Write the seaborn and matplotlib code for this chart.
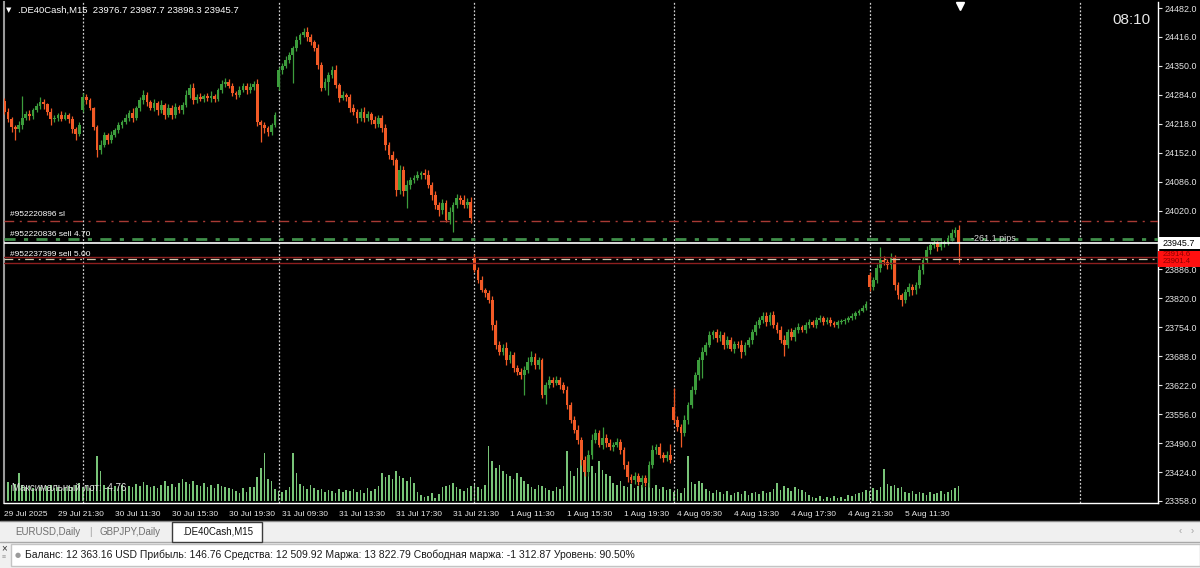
import numpy as np
import pandas as pd
import matplotlib
matplotlib.use("Agg")
import matplotlib.pyplot as plt
from matplotlib.patches import Rectangle
import seaborn as sns

# .DE40Cash M15 bars, one list per trading day (closes, wick sizes in points, tick volume)
close_d0 = [24245, 24230, 24210, 24205, 24215, 24232, 24240, 24235, 24250, 24258,
            24268, 24262, 24245, 24228, 24232, 24238, 24230, 24238, 24228, 24205,
            24195, 24215]
close_d1 = [24279, 24272, 24254, 24211, 24158, 24170, 24192, 24181, 24192, 24204,
            24215, 24222, 24231, 24243, 24231, 24254, 24272, 24284, 24268, 24254,
            24265, 24249, 24261, 24238, 24254, 24238, 24256, 24249, 24261, 24284,
            24300, 24272, 24279, 24275, 24281, 24277, 24281, 24275, 24295, 24309,
            24313, 24304, 24288, 24284, 24295, 24304, 24295, 24302, 24309, 24222,
            24215, 24208, 24199, 24215, 24238]
close_d2 = [24340, 24350, 24363, 24375, 24391, 24409, 24420, 24427, 24416, 24404,
            24391, 24352, 24300, 24313, 24329, 24341, 24306, 24277, 24284, 24279,
            24254, 24245, 24231, 24245, 24231, 24240, 24227, 24218, 24231, 24208,
            24170, 24147, 24135, 24067, 24113, 24065, 24079, 24090, 24095, 24101,
            24106, 24101, 24079, 24056, 24033, 24021, 24037, 23999, 24017, 24033,
            24049, 24044, 24033, 24040, 24003]
close_d3 = [23885, 23862, 23839, 23832, 23816, 23759, 23714, 23698, 23707, 23679,
            23691, 23661, 23652, 23645, 23657, 23675, 23686, 23668, 23679, 23600,
            23622, 23634, 23627, 23634, 23622, 23611, 23577, 23543, 23520, 23497,
            23451, 23424, 23463, 23497, 23513, 23486, 23502, 23490, 23481, 23486,
            23493, 23474, 23440, 23413, 23406, 23415, 23401, 23410, 23399, 23440,
            23474, 23481, 23463, 23456, 23463, 23451]
close_d4 = [23543, 23527, 23513, 23543, 23577, 23611, 23645, 23679, 23698, 23714,
            23736, 23743, 23729, 23736, 23714, 23725, 23705, 23716, 23714, 23698,
            23714, 23725, 23743, 23759, 23771, 23780, 23766, 23782, 23759, 23748,
            23725, 23714, 23743, 23732, 23748, 23755, 23748, 23759, 23766, 23759,
            23771, 23775, 23766, 23771, 23764, 23759, 23766, 23768, 23771, 23775,
            23780, 23786, 23792, 23798, 23808]
close_d5 = [23846, 23862, 23889, 23907, 23903, 23896, 23912, 23850, 23828, 23816,
            23835, 23846, 23839, 23850, 23885, 23907, 23930, 23941, 23946, 23937,
            23944, 23948, 23957, 23969, 23976.7, 23945.7]

upper_d0 = [6, 8, 4, 5, 9, 50, 7, 10, 5, 8, 12, 6, 4, 9, 7, 5, 10, 6, 4, 8, 5, 7]
upper_d1 = [10, 6, 4, 3, 5, 12, 8, 6, 10, 5, 7, 4, 9, 6, 12, 5, 8, 10, 7, 4,
            9, 6, 11, 5, 8, 6, 9, 5, 7, 12, 8, 10, 6, 9, 5, 7, 11, 6, 4, 8,
            10, 6, 7, 5, 9, 8, 6, 10, 7, 12, 5, 8, 6, 5, 7]
upper_d2 = [8, 6, 10, 7, 5, 9, 6, 9, 12, 7, 5, 8, 6, 10, 7, 8, 12, 6, 9, 5,
            7, 10, 6, 8, 12, 7, 5, 9, 6, 8, 10, 7, 9, 6, 12, 8, 10, 7, 6, 9,
            5, 8, 11, 7, 9, 6, 10, 8, 12, 7, 9, 6, 12, 8, 10]
upper_d3 = [8, 6, 10, 5, 7, 9, 12, 8, 10, 14, 9, 7, 6, 10, 8, 12, 14, 9, 7, 6,
            8, 10, 7, 9, 6, 8, 10, 7, 9, 12, 8, 10, 12, 14, 9, 7, 25, 8, 10, 7,
            9, 6, 8, 10, 7, 9, 6, 8, 7, 10, 12, 8, 9, 7, 10, 25]
upper_d4 = [43, 8, 6, 10, 7, 9, 6, 8, 10, 7, 9, 6, 8, 10, 7, 9, 8, 6, 7, 10,
            6, 8, 7, 9, 6, 8, 10, 7, 9, 6, 8, 12, 7, 9, 6, 8, 5, 7, 6, 5,
            7, 6, 5, 7, 6, 4, 5, 6, 4, 5, 6, 5, 4, 6, 5]
upper_d5 = [8, 6, 10, 30, 9, 7, 12, 6, 8, 5, 7, 9, 6, 8, 10, 7, 9, 6, 8, 5,
            7, 6, 8, 10, 6, 11]

lower_d0 = [5, 7, 10, 25, 6, 8, 5, 9, 6, 4, 7, 10, 6, 12, 5, 8, 6, 4, 9, 7, 14, 5]
lower_d1 = [6, 8, 5, 7, 16, 10, 6, 9, 7, 5, 8, 6, 4, 7, 10, 5, 6, 8, 9, 5,
            7, 10, 6, 8, 5, 9, 7, 6, 8, 5, 7, 9, 6, 5, 8, 6, 10, 7, 5, 6,
            8, 5, 7, 9, 6, 5, 8, 6, 7, 9, 39, 10, 8, 6, 5]
lower_d2 = [6, 8, 5, 7, 64, 6, 8, 5, 9, 7, 6, 10, 8, 5, 30, 7, 6, 9, 5, 8,
            10, 6, 12, 7, 8, 6, 9, 10, 7, 8, 12, 9, 10, 14, 8, 12, 40, 9, 7, 6,
            8, 10, 7, 12, 9, 14, 8, 6, 10, 45, 7, 9, 6, 8, 12]
lower_d3 = [6, 8, 5, 10, 7, 12, 9, 6, 8, 10, 7, 9, 6, 8, 45, 7, 6, 9, 8, 7,
            20, 6, 8, 5, 9, 7, 10, 8, 6, 9, 12, 10, 8, 9, 7, 6, 10, 8, 7, 9,
            6, 8, 10, 12, 8, 9, 7, 10, 6, 8, 7, 9, 6, 8, 7, 6]
lower_d4 = [8, 10, 32, 7, 9, 6, 8, 10, 41, 7, 6, 8, 9, 7, 10, 8, 6, 9, 7, 14,
            8, 6, 9, 7, 6, 8, 9, 7, 6, 8, 7, 25, 8, 6, 9, 7, 5, 6, 7, 5,
            6, 5, 7, 4, 6, 5, 7, 4, 6, 5, 4, 6, 5, 4, 5]
lower_d5 = [10, 8, 6, 9, 7, 10, 8, 12, 9, 14, 7, 9, 12, 8, 6, 9, 7, 8, 6, 9,
            7, 8, 6, 7, 8, 47.4]

vol_d0 = [20, 19, 16, 17, 28, 16, 14, 15, 13, 12, 14, 13, 15, 16, 13, 14, 12, 13, 15, 14, 16, 18]
vol_d1 = [14, 15, 13, 16, 45, 30, 16, 14, 13, 15, 14, 16, 13, 15, 14, 17, 15, 19, 16, 14,
          15, 13, 16, 20, 15, 17, 14, 18, 22, 19, 17, 20, 16, 15, 18, 14, 16, 13, 17, 15,
          14, 13, 12, 10, 8, 13, 9, 14, 14, 24, 33, 48, 22, 20, 12]
vol_d2 = [10, 9, 11, 14, 48, 28, 17, 15, 12, 16, 13, 11, 12, 9, 11, 10, 8, 12, 9, 11,
          10, 12, 9, 11, 8, 13, 10, 12, 15, 28, 24, 26, 22, 30, 25, 23, 20, 24, 18, 9,
          6, 4, 5, 8, 3, 7, 14, 15, 16, 18, 14, 12, 10, 13, 15]
vol_d3 = [17, 14, 12, 16, 55, 40, 33, 36, 30, 27, 25, 22, 28, 24, 20, 17, 14, 12, 16, 15,
          13, 11, 10, 14, 12, 15, 50, 30, 25, 33, 43, 38, 30, 35, 28, 40, 31, 27, 25, 18,
          16, 20, 15, 14, 17, 13, 15, 16, 14, 18, 13, 16, 12, 14, 11, 12]
vol_d4 = [9, 12, 8, 13, 45, 19, 17, 20, 18, 12, 10, 8, 11, 9, 7, 10, 6, 8, 9, 7,
          10, 6, 8, 9, 7, 10, 8, 9, 12, 18, 11, 15, 13, 10, 14, 12, 11, 9, 6, 4,
          3, 5, 2, 4, 3, 5, 3, 4, 2, 6, 5, 7, 8, 9, 11]
vol_d5 = [10, 13, 11, 14, 32, 17, 15, 16, 13, 14, 9, 8, 10, 7, 9, 8, 6, 9, 7, 8,
          10, 7, 9, 11, 13, 15]

# opening gaps at the first bar of each session
gap_opens = {0: 24270, 22: 24250, 77: 24302, 132: 23914, 188: 23573, 243: 23873}
day_starts = [22, 77, 132, 188, 243, 302]

tick_bars = [0, 15, 31, 47, 63, 78, 94, 110, 126, 142, 158, 174, 189, 205, 221, 237, 253]
tick_text = ["29 Jul 2025", "29 Jul 21:30", "30 Jul 11:30", "30 Jul 15:30", "30 Jul 19:30",
             "31 Jul 09:30", "31 Jul 13:30", "31 Jul 17:30", "31 Jul 21:30", "1 Aug 11:30",
             "1 Aug 15:30", "1 Aug 19:30", "4 Aug 09:30", "4 Aug 13:30", "4 Aug 17:30",
             "4 Aug 21:30", "5 Aug 11:30"]
price_ticks = [24482, 24416, 24350, 24284, 24218, 24152, 24086, 24020,
               23886, 23820, 23754, 23688, 23622, 23556, 23490, 23424, 23358]

sl_price = 23997.0
sell1_price = 23955.0
bid_price = 23945.7
sell2_price = 23909.0
red_levels = [23914.6, 23901.4]

# build OHLC
closes = np.array(close_d0 + close_d1 + close_d2 + close_d3 + close_d4 + close_d5, dtype=float)
upper = np.array(upper_d0 + upper_d1 + upper_d2 + upper_d3 + upper_d4 + upper_d5, dtype=float)
lower = np.array(lower_d0 + lower_d1 + lower_d2 + lower_d3 + lower_d4 + lower_d5, dtype=float)
volumes = np.array(vol_d0 + vol_d1 + vol_d2 + vol_d3 + vol_d4 + vol_d5, dtype=float)
idx = np.arange(len(closes))
opens = np.r_[closes[0], closes[:-1]]
for i, v in gap_opens.items():
    opens[i] = v
highs = np.maximum(opens, closes) + upper
lows = np.minimum(opens, closes) - lower

BULL = "#3c9d3c"
BEAR = "#f25a26"
VOL = "#78c478"
FG = "#e6e6e6"

sns.set_theme(style="dark", rc={"axes.facecolor": "black", "figure.facecolor": "black",
                                "savefig.facecolor": "black"})
plt.rcParams["font.family"] = ["Liberation Sans", "DejaVu Sans"]

W, H = 1200, 568
def fx(px):
    return px / W
def fy(py):
    return 1 - py / H

fig = plt.figure(figsize=(12, 5.68), dpi=100)
ax = fig.add_axes([fx(4), fy(503), (1158 - 4) / W, (503 - 2) / H])
ax2 = ax.twinx()

# volumes underneath
df = pd.DataFrame({"bar": idx, "volume": volumes})
sns.barplot(data=df, x="bar", y="volume", native_scale=True, width=0.45, color=VOL,
            saturation=1, linewidth=0, errorbar=None, ax=ax2)
ax2.set_ylim(-2, 499)
ax2.set_yticks([])
ax2.set_ylabel("")
ax2.set_xlabel("")
for s in ax2.spines.values():
    s.set_visible(False)
ax2.set_zorder(0)
ax2.patch.set_visible(True)
ax2.patch.set_facecolor("black")
ax.set_zorder(1)
ax.patch.set_visible(False)

# candles
bull = closes >= opens
col = np.where(bull, BULL, BEAR)
body = np.maximum(np.abs(closes - opens), 1.5)
ax.vlines(idx, lows, highs, colors=col, lw=0.9, zorder=3)
ax.bar(idx, body, bottom=np.minimum(opens, closes), width=0.78, color=col, linewidth=0, zorder=4)

# day separators
for d in day_starts:
    ax.axvline(d, color="#cfcfcf", lw=0.9, ls=(0, (1.5, 1.5)), zorder=2)

# order / price lines
ax.axhline(sl_price, color="#a83a34", lw=1, ls=(0, (7, 4, 1.5, 4)), zorder=5)
ax.axhline(sell1_price, color="#3f8f4a", lw=2, ls=(0, (4, 3, 1.5, 3)), zorder=5)
ax.axhline(bid_price, color="white", lw=1.2, zorder=6)
for p in red_levels:
    ax.axhline(p, color="#8e1f1f", lw=1, zorder=5)
ax.axhline(sell2_price, color="#cfcab0", lw=0.9, ls=(0, (7, 4, 1.5, 4)), zorder=5)

lab = dict(color="white", fontsize=6, ha="left", va="center", textcoords="offset pixels", zorder=7)
ax.annotate("#952220896 sl", xy=(1.5, sl_price), xytext=(0, 6), **lab)
ax.annotate("#952220836 sell 4.70", xy=(1.5, sell1_price), xytext=(0, 5), **lab)
ax.annotate("#952237399 sell 5.00", xy=(1.5, sell2_price), xytext=(0, 5), **lab)
ax.annotate("-261.1 pips", xy=(271.5, sell1_price), xytext=(0, 1), color="#d8d8d8",
            fontsize=6.5, ha="left", va="center", textcoords="offset pixels", zorder=7)

ax.text(2, 23358 + 13 * 2.28, "Максимальный лот: -4.76", color="#e0e0e0", fontsize=7,
        ha="left", va="center", zorder=7)

# chart shift marker
ax.plot([268.4], [0.992], marker="v", color="white", ms=6,
        transform=ax.get_xaxis_transform(), clip_on=False, zorder=8)

# axes
ax.set_xlim(-0.14, 324.0)
ax.set_ylim(23353.44, 24495.68)
ax.yaxis.tick_right()
ax.set_yticks(price_ticks)
ax.set_yticklabels([f"{v:.1f}" for v in price_ticks])
ax.set_xticks(tick_bars)
ax.set_xticklabels(tick_text, ha="left")
ax.tick_params(axis="x", colors=FG, labelsize=6, direction="out", length=3, pad=3, width=0.8)
ax.tick_params(axis="y", colors=FG, labelsize=6.4, direction="out", length=3, pad=2, width=0.8,
               left=False, right=True, labelleft=False, labelright=True)
ax.grid(False)
ax.spines["top"].set_visible(False)
ax.spines["left"].set_color("#9a9a9a")
ax.spines["left"].set_linewidth(1.5)
ax.spines["right"].set_color("white")
ax.spines["bottom"].set_color("white")
ax.spines["right"].set_linewidth(1)
ax.spines["bottom"].set_linewidth(1)

# price tags on the right axis
fig.patches.append(Rectangle((fx(1158), fy(249)), 42 / W, 12 / H, transform=fig.transFigure,
                             facecolor="white", edgecolor="none", zorder=10))
fig.text(fx(1163), fy(243), "23945.7", color="black", fontsize=6.4, ha="left", va="center", zorder=11)
fig.patches.append(Rectangle((fx(1158), fy(267)), 42 / W, 16 / H, transform=fig.transFigure,
                             facecolor="#ff1010", edgecolor="none", zorder=10))
fig.text(fx(1163), fy(255), "23914.6", color="#8b0000", fontsize=5.6, ha="left", va="center", zorder=11)
fig.text(fx(1163), fy(262), "23901.4", color="#8b0000", fontsize=5.6, ha="left", va="center", zorder=11)

# header texts
fig.text(fx(6), fy(10), "▼", color="white", fontsize=5, ha="left", va="center",
         family=["DejaVu Sans"])
fig.text(fx(18), fy(10), ".DE40Cash,M15  23976.7 23987.7 23898.3 23945.7", color="white",
         fontsize=6.8, ha="left", va="center")
fig.text(fx(1131), fy(20), "08:10", color="#e8e8e8", fontsize=11, ha="center", va="center")

# terminal tab strip and status bar
fig.patches.append(Rectangle((0, 0), 1, (568 - 521) / H, transform=fig.transFigure,
                             facecolor="#f0f0f0", edgecolor="none", zorder=1))
fig.add_artist(plt.Line2D([0, 1], [fy(521), fy(521)], color="#8a8a8a", lw=1, transform=fig.transFigure))
fig.add_artist(plt.Line2D([0, 1], [fy(542), fy(542)], color="#a8a8a8", lw=1, transform=fig.transFigure))
fig.patches.append(Rectangle((fx(172), fy(542)), 90 / W, 20 / H, transform=fig.transFigure,
                             facecolor="white", edgecolor="#3c3c3c", lw=1, zorder=2))
fig.text(fx(15), fy(532), "EURUSD,Daily", color="#707070", fontsize=7, ha="left", va="center", zorder=3)
fig.text(fx(90), fy(532), "|", color="#9a9a9a", fontsize=7, ha="center", va="center", zorder=3)
fig.text(fx(100), fy(532), "GBPJPY,Daily", color="#707070", fontsize=7, ha="left", va="center", zorder=3)
fig.text(fx(182), fy(532), ".DE40Cash,M15", color="#111111", fontsize=7, ha="left", va="center", zorder=3)
fig.text(fx(1180), fy(531), "‹", color="#a0a0a0", fontsize=7, ha="center", va="center", zorder=3)
fig.text(fx(1192), fy(531), "›", color="#a0a0a0", fontsize=7, ha="center", va="center", zorder=3)

fig.patches.append(Rectangle((fx(11), fy(566)), (1200 - 11) / W, 22 / H, transform=fig.transFigure,
                             facecolor="white", edgecolor="#c4c4c4", lw=1, zorder=2))
fig.text(fx(4), fy(548), "×", color="#333333", fontsize=7, ha="center", va="center", zorder=3)
fig.text(fx(4), fy(558), "≡", color="#999999", fontsize=5, ha="center", va="center", zorder=3)
fig.text(fx(18), fy(555), "●", color="#9a9a9a", fontsize=5, ha="center", va="center", zorder=3,
         family=["DejaVu Sans"])
fig.text(fx(25), fy(555),
         "Баланс: 12 363.16 USD Прибыль: 146.76 Средства: 12 509.92 Маржа: 13 822.79 "
         "Свободная маржа: -1 312.87 Уровень: 90.50%",
         color="#1a1a1a", fontsize=7.5, ha="left", va="center", zorder=3)

fig.savefig("out.png", dpi=100, facecolor="black")
